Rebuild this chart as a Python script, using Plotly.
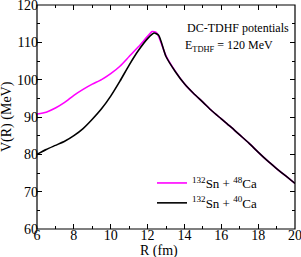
import plotly.graph_objects as go

R = [6.0, 6.5, 7.0, 7.5, 8.0, 8.5, 9.0, 9.5, 10.0, 10.5, 11.0, 11.5, 12.0, 12.25, 12.5,
     13.0, 13.5, 14.0, 14.5, 15.0, 15.5, 16.0, 16.5, 17.0, 17.5, 18.0, 18.5, 19.0, 19.5, 20.0]
V_sn_ca48 = [90.8, 91.3, 92.4, 93.9, 95.8, 97.4, 98.8, 100.0, 101.6, 103.6, 106.2, 108.8, 111.6, 112.9, 112.5,
             106.4, 102.3, 98.9, 96.3, 94.0, 91.6, 89.5, 87.4, 85.2, 83.0, 80.6, 78.3, 76.2, 74.2, 72.2]

R2 = [6.0, 6.5, 7.0, 7.5, 8.0, 8.5, 9.0, 9.5, 10.0, 10.5, 11.0, 11.5, 12.0, 12.35, 12.6,
      13.0, 13.5, 14.0, 14.5, 15.0, 15.5, 16.0, 16.5, 17.0, 17.5, 18.0, 18.5, 19.0, 19.5, 20.0]
V_sn_ca40 = [80.0, 81.3, 82.4, 83.5, 85.0, 86.9, 89.4, 92.2, 95.6, 99.6, 103.9, 107.8, 111.0, 112.5, 111.9,
             106.2, 102.2, 98.9, 96.3, 94.0, 91.6, 89.5, 87.4, 85.2, 83.0, 80.6, 78.3, 76.2, 74.2, 72.2]

names = ["<sup>132</sup>Sn + <sup>48</sup>Ca", "<sup>132</sup>Sn + <sup>40</sup>Ca"]
x_ticks = [6, 8, 10, 12, 14, 16, 18, 20]
y_ticks = [60, 70, 80, 90, 100, 110, 120]

FONT = "'Liberation Serif', 'Times New Roman', 'DejaVu Serif', serif"
TS = 14

W, H = 301, 257
L, Rm, T, B = 37, 6, 5, 28
pw, ph = W - L - Rm, H - T - B

def px(x):
    return (x - L) / pw

def py(y):
    return 1 - (y - T) / ph

fig = go.Figure()
fig.add_trace(go.Scatter(x=R, y=V_sn_ca48, mode="lines", name=names[0],
                         line=dict(color="#ff00ff", width=1.6, shape="spline", smoothing=0.6)))
fig.add_trace(go.Scatter(x=R2, y=V_sn_ca40, mode="lines", name=names[1],
                         line=dict(color="black", width=1.6, shape="spline", smoothing=0.6)))

common = dict(showline=False, ticks="inside", ticklen=5, tickcolor="black", tickwidth=1,
              showgrid=False, zeroline=False, automargin=False)

fig.update_layout(
    xaxis=dict(range=[6, 20], tickmode="array", tickvals=x_ticks, ticktext=[str(v) for v in x_ticks],
               minor=dict(ticks="inside", ticklen=3, dtick=1, tick0=6, tickcolor="black", showgrid=False),
               tickfont=dict(family=FONT, size=TS, color="black"), ticklabeloverflow="allow",
               ticklabelstandoff=-4, **common),
    yaxis=dict(range=[60, 120], tickmode="array", tickvals=y_ticks, ticktext=[str(v) for v in y_ticks],
               minor=dict(ticks="inside", ticklen=3, dtick=5, tick0=60, tickcolor="black", showgrid=False),
               tickfont=dict(family=FONT, size=TS, color="black"), ticklabeloverflow="allow",
               ticklabelstandoff=-2, **common),
    xaxis2=dict(range=[6, 20], overlaying="x", side="top", matches="x", showticklabels=False,
                tickmode="array", tickvals=x_ticks,
                minor=dict(ticks="inside", ticklen=3, dtick=1, tick0=6, tickcolor="black", showgrid=False),
                **common),
    yaxis2=dict(range=[60, 120], overlaying="y", side="right", matches="y", showticklabels=False,
                tickmode="array", tickvals=y_ticks,
                minor=dict(ticks="inside", ticklen=3, dtick=5, tick0=60, tickcolor="black", showgrid=False),
                **common),
)
# invisible helper trace so the mirrored axes are drawn
fig.add_trace(go.Scatter(x=[R[0]], y=[V_sn_ca48[0]], xaxis="x2", yaxis="y2", mode="markers",
                         marker=dict(opacity=0), showlegend=False, hoverinfo="skip"))

fig.add_shape(type="rect", xref="paper", yref="paper", x0=0, y0=0, x1=1, y1=1,
              line=dict(color="black", width=1.2), layer="above")

fig.add_annotation(x=px(237.5), y=py(28), xref="paper", yref="paper", text="DC-TDHF potentials",
                   showarrow=False, xanchor="center", yanchor="middle",
                   font=dict(family=FONT, size=12, color="black"))
fig.add_annotation(x=px(229), y=py(46), xref="paper", yref="paper",
                   text="E<sub>TDHF</sub> = 120 MeV", showarrow=False,
                   xanchor="center", yanchor="middle",
                   font=dict(family=FONT, size=12, color="black"))
fig.add_annotation(x=px(159), y=py(251), xref="paper", yref="paper", text="R (fm)",
                   showarrow=False, xanchor="center", yanchor="middle",
                   font=dict(family=FONT, size=TS, color="black"))
fig.add_annotation(x=px(7), y=py(117), xref="paper", yref="paper", text="V(R) (MeV)",
                   showarrow=False, xanchor="center", yanchor="middle", textangle=-90,
                   font=dict(family=FONT, size=TS, color="black"))

fig.update_layout(
    width=W, height=H,
    margin=dict(l=L, r=Rm, t=T, b=B, autoexpand=False),
    paper_bgcolor="white", plot_bgcolor="white",
    font=dict(family=FONT, size=TS, color="black"),
    legend=dict(x=px(152), y=py(168), xanchor="left", yanchor="top",
                bgcolor="rgba(0,0,0,0)", borderwidth=0,
                font=dict(family=FONT, size=13, color="black"),
                itemwidth=30, tracegroupgap=0),
)

fig.write_html("out.html", config={"displayModeBar": False},
               post_script="document.body.style.margin='0px';document.body.style.overflow='hidden';")
